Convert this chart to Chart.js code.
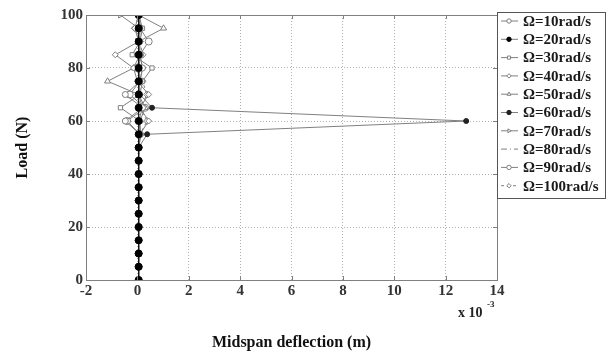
<!DOCTYPE html>
<html>
<head>
<meta charset="utf-8">
<script src="https://cdn.jsdelivr.net/npm/chart.js@4/dist/chart.umd.min.js"></script>
<style>
  html, body { margin: 0; padding: 0; background: #fff; }
  #wrap { width: 609px; height: 356px; }
</style>
</head>
<body>
<div id="wrap"><canvas id="myChart" width="609" height="356"></canvas></div>
<script>
// load steps (N)
var loads = [0,5,10,15,20,25,30,35,40,45,50,55,60,65,70,75,80,85,90,95,100];
// midspan deflection, x 10^-3 m, one list per speed
var w10  = [0.05,0.05,0.05,0.05,0.05,0.05,0.05,0.05,0.05,0.05,0.05, 0.10,-0.47,0.20,-0.47,0.10,0.20,0.10,0.10,0.10,0.10];
var w20  = [0.05,0.05,0.05,0.05,0.05,0.05,0.05,0.05,0.05,0.05,0.05, 0.05,0.05,0.05,0.05,0.05,0.05,0.05,0.05,0.05,0.05];
var w30  = [0.05,0.05,0.05,0.05,0.05,0.05,0.05,0.05,0.05,0.05,0.05, 0.10,0.10,-0.66,0.10,0.20,0.57,-0.20,0.10,0.20,0.05];
var w40  = [0.05,0.05,0.05,0.05,0.05,0.05,0.05,0.05,0.05,0.05,0.05, 0.10,0.44,0.10,0.44,0.00,-0.15,-0.86,0.05,-0.10,0.05];
var w50  = [0.05,0.05,0.05,0.05,0.05,0.05,0.05,0.05,0.05,0.05,0.05, 0.10,0.10,0.30,0.05,-1.16,-0.15,0.10,0.05,1.02,0.05];
var w60  = [0.05,0.05,0.05,0.05,0.05,0.05,0.05,0.05,0.05,0.05,0.05, 0.38,12.8,0.57,0.10,0.05,0.10,0.05,0.05,0.05,0.05];
var w70  = [0.05,0.05,0.05,0.05,0.05,0.05,0.05,0.05,0.05,0.05,0.05, 0.15,0.05,0.20,0.05,0.10,0.20,0.10,0.00,0.05,-0.66];
var w80  = [0.05,0.05,0.05,0.05,0.05,0.05,0.05,0.05,0.05,0.05,0.05, 0.05,0.10,0.05,0.15,0.05,0.10,0.05,0.10,0.05,0.05];
var w90  = [0.05,0.05,0.05,0.05,0.05,0.05,0.05,0.05,0.05,0.05,0.05, 0.10,-0.40,0.30,-0.30,0.10,0.00,0.10,0.44,0.10,0.05];
var w100 = [0.05,0.05,0.05,0.05,0.05,0.05,0.05,0.05,0.05,0.05,0.05, 0.10,0.38,0.10,0.38,0.20,-0.10,0.20,0.10,-0.10,0.05];
var names = ['Ω=10rad/s','Ω=20rad/s','Ω=30rad/s','Ω=40rad/s','Ω=50rad/s','Ω=60rad/s','Ω=70rad/s','Ω=80rad/s','Ω=90rad/s','Ω=100rad/s'];
var xTicks = [-2,0,2,4,6,8,10,12,14];
var yTicks = [0,20,40,60,80,100];

var all = [w10,w20,w30,w40,w50,w60,w70,w80,w90,w100];
var looks = [
  {ps:'circle', r:3, c:'#808080', bg:'#fff', rot:0},
  {ps:'circle', r:3.5, c:'#000', bg:'#000', rot:0, lc:'#000'},
  {ps:'rect', r:3, c:'#808080', bg:'#fff', rot:0},
  {ps:'rectRot', r:3, c:'#808080', bg:'#fff', rot:0},
  {ps:'triangle', r:3.5, c:'#808080', bg:'#fff', rot:0},
  {ps:'circle', r:2.5, c:'#222', bg:'#222', rot:0},
  {ps:'triangle', r:3.5, c:'#808080', bg:'#fff', rot:90},
  {ps:'circle', r:0, c:'#808080', bg:'#fff', rot:0, dash:[6,3,1,3]},
  {ps:'circle', r:3.5, c:'#808080', bg:'#fff', rot:0},
  {ps:'rectRot', r:3.5, c:'#808080', bg:'#fff', rot:0, dash:[3,3]}
];

var datasets = [];
for (let i = 0; i < all.length; i++) {
  let pts = [];
  for (let k = 0; k < loads.length; k++) pts.push({x: all[i][k], y: loads[k]});
  let L = looks[i];
  datasets.push({
    label: names[i],
    data: pts,
    borderColor: L.lc || '#808080',
    borderWidth: 1,
    borderDash: L.dash || [],
    pointStyle: L.ps,
    pointRadius: L.r,
    pointRotation: L.rot,
    pointBorderColor: L.c,
    pointBackgroundColor: L.bg,
    pointBorderWidth: 1,
    tension: 0,
    order: i == 1 ? 0 : 1
  });
}

const extras = {
  id: 'extras',
  beforeDraw(chart) {
    const ctx = chart.ctx;
    ctx.save();
    ctx.fillStyle = '#fff';
    ctx.fillRect(0, 0, chart.width, chart.height);
    ctx.restore();
  },
  afterDraw(chart) {
    const ctx = chart.ctx;
    const a = chart.chartArea;
    ctx.save();
    // box round the plot
    ctx.strokeStyle = '#808080';
    ctx.lineWidth = 1;
    ctx.strokeRect(a.left + 0.5, a.top + 0.5, a.right - a.left, a.bottom - a.top);
    // inward ticks
    const xs = chart.scales.x, ys = chart.scales.y;
    ctx.beginPath();
    xTicks.forEach(v => {
      let p = Math.round(xs.getPixelForValue(v)) + 0.5;
      ctx.moveTo(p, a.bottom); ctx.lineTo(p, a.bottom - 4);
      ctx.moveTo(p, a.top); ctx.lineTo(p, a.top + 4);
    });
    yTicks.forEach(v => {
      let p = Math.round(ys.getPixelForValue(v)) + 0.5;
      ctx.moveTo(a.left, p); ctx.lineTo(a.left + 4, p);
      ctx.moveTo(a.right, p); ctx.lineTo(a.right - 4, p);
    });
    ctx.stroke();

    // x 10^-3
    ctx.fillStyle = '#222';
    ctx.font = 'bold 14px "Liberation Serif"';
    ctx.textBaseline = 'middle';
    ctx.textAlign = 'left';
    ctx.fillText('x 10', 458, 313);
    ctx.font = 'bold 9px "Liberation Serif"';
    ctx.fillText('-3', 487, 305);

    // legend
    const lx = 497, ly = 12, lw = 108, lh = 186;
    ctx.fillStyle = '#fff';
    ctx.fillRect(lx, ly, lw, lh);
    ctx.strokeStyle = '#555';
    ctx.strokeRect(lx + 0.5, ly + 0.5, lw, lh);
    ctx.font = 'bold 15px "Liberation Serif"';
    for (let i = 0; i < datasets.length; i++) {
      const d = datasets[i];
      const y = 21 + i * 18.3;
      ctx.strokeStyle = '#808080';
      ctx.setLineDash(d.borderDash);
      ctx.beginPath();
      ctx.moveTo(501, y); ctx.lineTo(518, y);
      ctx.stroke();
      ctx.setLineDash([]);
      if (d.pointRadius > 0) {
        ctx.strokeStyle = d.pointBorderColor;
        ctx.fillStyle = d.pointBackgroundColor;
        Chart.helpers.drawPoint(ctx, {pointStyle: d.pointStyle, radius: Math.min(d.pointRadius, 2.2), rotation: d.pointRotation, borderWidth: 1}, 509, y);
      }
      ctx.fillStyle = '#1a1a1a';
      ctx.fillText(d.label, 523, y + 1);
    }
    ctx.restore();
  }
};

const config = {
  type: 'line',
  data: { datasets: datasets },
  options: {
    responsive: false,
    animation: false,
    layout: { padding: { left: 0, top: 15, right: 112, bottom: 0 } },
    plugins: { legend: { display: false }, tooltip: { enabled: false } },
    scales: {
      x: {
        type: 'linear', min: -2, max: 14,
        afterFit: (s) => { s.height = 76; },
        afterBuildTicks: (s) => { s.ticks = xTicks.map(v => ({value: v})); },
        ticks: { color: '#333', padding: 2, font: { family: 'Liberation Serif', size: 15, weight: 'bold' } },
        grid: { color: '#b0b0b0', drawTicks: false },
        border: { display: false, dash: [1,2] },
        title: { display: true, text: 'Midspan deflection (m)', color: '#111',
          font: { family: 'Liberation Serif', size: 16, weight: 'bold' }, padding: { top: 0, bottom: 4 } }
      },
      y: {
        type: 'linear', min: 0, max: 100,
        afterFit: (s) => { s.width = 86; },
        afterBuildTicks: (s) => { s.ticks = yTicks.map(v => ({value: v})); },
        ticks: { color: '#333', padding: 3, font: { family: 'Liberation Serif', size: 15, weight: 'bold' } },
        grid: { color: '#b0b0b0', drawTicks: false },
        border: { display: false, dash: [1,2] },
        title: { display: true, text: 'Load (N)', color: '#111',
          font: { family: 'Liberation Serif', size: 16, weight: 'bold' }, padding: { top: 13, bottom: 0 } }
      }
    }
  },
  plugins: [extras]
};
const myChart = new Chart(document.getElementById('myChart'), config);
</script>
</body>
</html>
